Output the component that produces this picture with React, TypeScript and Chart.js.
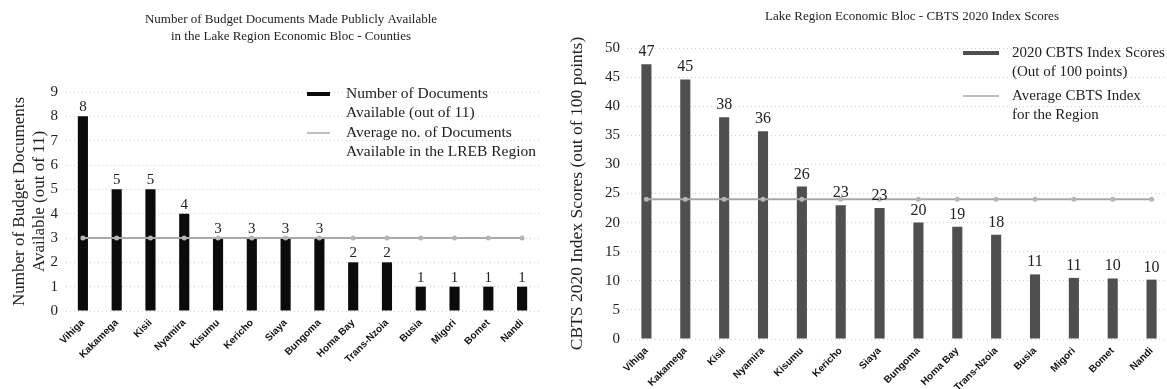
import React, { useEffect, useRef } from "react";
import { Chart, registerables } from "chart.js";

Chart.register(...registerables);

const counties = ["Vihiga", "Kakamega", "Kisii", "Nyamira", "Kisumu", "Kericho", "Siaya", "Bungoma", "Homa Bay", "Trans-Nzoia", "Busia", "Migori", "Bomet", "Nandi"];

const docsAvailable = [8, 5, 5, 4, 3, 3, 3, 3, 2, 2, 1, 1, 1, 1];
const docsAverage = [3, 3, 3, 3, 3, 3, 3, 3, 3, 3, 3, 3, 3, 3];

const cbtsScores = [47.2, 44.6, 38.1, 35.7, 26.2, 23.0, 22.5, 20.0, 19.3, 17.9, 11.1, 10.5, 10.4, 10.2];
const cbtsAverage = [24, 24, 24, 24, 24, 24, 24, 24, 24, 24, 24, 24, 24, 24];

const leftTitle = ["Number of Budget Documents Made Publicly Available", "in the Lake Region Economic Bloc - Counties"];
const rightTitle = ["Lake Region Economic Bloc - CBTS 2020 Index Scores"];
const leftAxisTitle = ["Number of Budget Documents", "Available (out of 11)"];
const rightAxisTitle = "CBTS 2020 Index Scores (out of 100 points)";
const leftLegendBar = ["Number of Documents", "Available (out of 11)"];
const leftLegendLine = ["Average no. of Documents", "Available in the LREB Region"];
const rightLegendBar = ["2020 CBTS Index Scores", "(Out of 100 points)"];
const rightLegendLine = ["Average CBTS Index", "for the Region"];

const SERIF = "'Liberation Serif', 'DejaVu Serif', serif";
const SANS = "'Liberation Sans', Arial, sans-serif";

const overlayPlugin = {
  id: "overlay",
  afterDatasetsDraw(chart: any, _args: any, opts: any) {
    const ctx = chart.ctx;
    ctx.save();
    // value labels above bars
    const meta = chart.getDatasetMeta(0);
    const values = chart.data.datasets[0].data;
    ctx.font = opts.labelFont;
    ctx.fillStyle = "#222";
    ctx.textAlign = "center";
    ctx.textBaseline = "alphabetic";
    meta.data.forEach((bar: any, i: number) => {
      ctx.fillText(String(Math.round(values[i])), bar.x, bar.y - opts.labelGap);
    });
    // chart title
    ctx.font = opts.titleFont;
    ctx.fillStyle = "#222";
    ctx.textBaseline = "middle";
    opts.title.forEach((line: string, i: number) => {
      ctx.fillText(line, opts.titleX, opts.titleY + i * opts.titleLine);
    });
    // legend
    const lg = opts.legend;
    ctx.fillStyle = lg.barColor;
    ctx.fillRect(lg.x, lg.barY - lg.barH / 2, lg.w, lg.barH);
    ctx.strokeStyle = lg.lineColor;
    ctx.lineWidth = 1.5;
    ctx.beginPath();
    ctx.moveTo(lg.x, lg.lineY);
    ctx.lineTo(lg.x + lg.w, lg.lineY);
    ctx.stroke();
    ctx.font = lg.font;
    ctx.fillStyle = "#222";
    ctx.textAlign = "left";
    ctx.textBaseline = "middle";
    lg.barText.forEach((t: string, i: number) => ctx.fillText(t, lg.textX, lg.barY + i * lg.lh));
    lg.lineText.forEach((t: string, i: number) => ctx.fillText(t, lg.textX, lg.lineY + i * lg.lh));
    ctx.restore();
  },
};

function makeConfig(p: any) {
  return {
    type: "bar",
    data: {
      labels: counties,
      datasets: [
        {
          type: "bar",
          data: p.bars,
          backgroundColor: p.barColor,
          barPercentage: p.barPct,
          categoryPercentage: 1,
          order: 2,
        },
        {
          type: "line",
          data: p.avg,
          borderColor: "#a9a9a9",
          borderWidth: 2,
          pointRadius: 2.5,
          pointBackgroundColor: "#b5b5b5",
          pointBorderColor: "#b5b5b5",
          pointBorderWidth: 0,
          tension: 0,
          order: 1,
        },
      ],
    },
    options: {
      responsive: false,
      animation: false,
      layout: { padding: { left: 0, right: p.padRight, top: p.padTop, bottom: 0 } },
      plugins: {
        legend: { display: false },
        tooltip: { enabled: false },
        title: { display: false },
        overlay: p.overlay,
      },
      scales: {
        x: {
          grid: { display: false, drawTicks: false },
          border: { display: false },
          ticks: {
            minRotation: 45,
            maxRotation: 45,
            autoSkip: false,
            padding: 6,
            color: "#111",
            font: { family: SANS, size: 10, weight: "bold" },
          },
          afterFit: (s: any) => { s.height = p.xHeight; },
        },
        y: {
          min: 0,
          max: p.yMax,
          grid: { color: "#cfcfcf", lineWidth: 1, drawTicks: false },
          border: { display: false, dash: [1, 3] },
          ticks: {
            stepSize: p.yStep,
            padding: p.tickPad,
            color: "#222",
            font: { family: SERIF, size: 15 },
          },
          title: {
            display: true,
            text: p.axisTitle,
            color: "#222",
            padding: { top: p.axisTitlePad, bottom: 0 },
            font: { family: SERIF, size: p.axisTitleSize, lineHeight: 1.2 },
          },
          afterFit: (s: any) => { s.width = p.yWidth; },
        },
      },
    },
    plugins: [overlayPlugin],
  };
}

const leftParams = {
  bars: docsAvailable,
  avg: docsAverage,
  barColor: "#0b0b0b",
  barPct: 0.3,
  padRight: 21,
  padTop: 92,
  xHeight: 78,
  yMax: 9,
  yStep: 1,
  tickPad: 8,
  yWidth: 66,
  axisTitle: leftAxisTitle,
  axisTitleSize: 17,
  axisTitlePad: 9,
  overlay: {
    labelFont: `15px ${SERIF}`,
    labelGap: 5,
    titleFont: `13px ${SERIF}`,
    title: leftTitle,
    titleX: 291,
    titleY: 20,
    titleLine: 17,
    legend: {
      x: 307, w: 23, barH: 4, barY: 94, lineY: 133, textX: 346, lh: 19,
      barColor: "#0b0b0b", lineColor: "#a9a9a9", font: `15.5px ${SERIF}`,
      barText: leftLegendBar, lineText: leftLegendLine,
    },
  },
};

const rightParams = {
  bars: cbtsScores,
  avg: cbtsAverage,
  barColor: "#4f4f4f",
  barPct: 0.26,
  padRight: 9,
  padTop: 48,
  xHeight: 50,
  yMax: 50,
  yStep: 5,
  tickPad: 7,
  yWidth: 67,
  axisTitle: rightAxisTitle,
  axisTitleSize: 17.5,
  axisTitlePad: 7,
  overlay: {
    labelFont: `16px ${SERIF}`,
    labelGap: 8,
    titleFont: `13px ${SERIF}`,
    title: rightTitle,
    titleX: 352,
    titleY: 17,
    titleLine: 17,
    legend: {
      x: 403, w: 36, barH: 4, barY: 53, lineY: 96, textX: 452, lh: 19,
      barColor: "#4f4f4f", lineColor: "#a9a9a9", font: `15px ${SERIF}`,
      barText: rightLegendBar, lineText: rightLegendLine,
    },
  },
};

function ChartCanvas({ params, width, height }: { params: any; width: number; height: number }) {
  const ref = useRef<HTMLCanvasElement | null>(null);
  useEffect(() => {
    if (!ref.current) return;
    const chart = new Chart(ref.current, makeConfig(params) as any);
    return () => chart.destroy();
  }, [params]);
  return <canvas ref={ref} width={width} height={height} style={{ display: "block", width, height }} />;
}

export default function App() {
  return (
    <div
      style={{
        position: "fixed",
        left: 0,
        top: 0,
        width: 1167,
        height: 389,
        overflow: "hidden",
        background: "#fff",
        display: "flex",
      }}
    >
      <div style={{ width: 560, flex: "0 0 560px" }}>
        <ChartCanvas params={leftParams} width={560} height={389} />
      </div>
      <div style={{ width: 620, flex: "0 0 620px" }}>
        <ChartCanvas params={rightParams} width={620} height={389} />
      </div>
    </div>
  );
}
